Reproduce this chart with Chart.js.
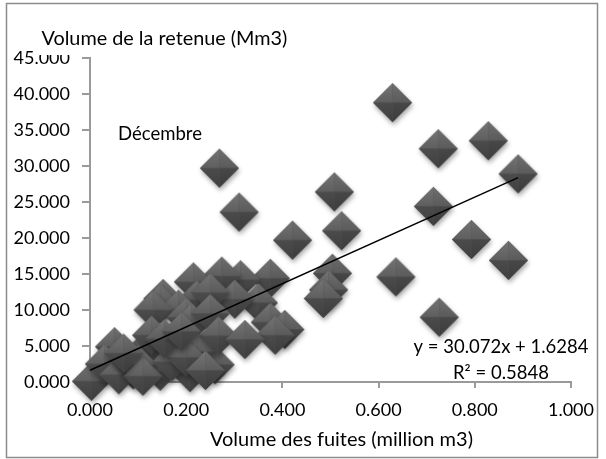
<!DOCTYPE html>
<html lang="fr">
<head>
<meta charset="UTF-8">
<title>Volume de la retenue / fuites</title>
<script src="https://cdn.jsdelivr.net/npm/chart.js"></script>
<style>
  html, body { margin: 0; padding: 0; background: #fff; }
  #wrap { width: 606px; height: 459px; }
</style>
</head>
<body>
<div id="wrap"><canvas id="fuitesChart" width="606" height="459"></canvas></div>

<script>
// Décembre : volume des fuites (million m3) vs volume de la retenue (Mm3)
const fuites = [
  0.629, 0.724, 0.828, 0.890, 0.714, 0.508, 0.269, 0.310, 0.421, 0.523,
  0.793, 0.870, 0.636, 0.726, 0.504, 0.496, 0.485, 0.375, 0.313, 0.274,
  0.215, 0.350, 0.301, 0.222, 0.152, 0.146, 0.184, 0.131, 0.200, 0.250,
  0.375, 0.405, 0.385, 0.211, 0.250, 0.003, 0.051, 0.090, 0.146, 0.118,
  0.184, 0.208, 0.260, 0.222, 0.267, 0.322, 0.128, 0.030, 0.060, 0.080,
  0.100, 0.110, 0.170, 0.200, 0.240, 0.155, 0.070, 0.190
];
const retenue = [
  38.8, 32.4, 33.5, 28.9, 24.4, 26.4, 29.7, 23.6, 19.7, 21.0,
  19.8, 16.9, 14.6, 9.0, 15.1, 12.8, 11.6, 14.4, 14.2, 14.7,
  13.9, 11.0, 11.5, 11.4, 11.6, 10.9, 10.1, 10.0, 9.0, 12.4,
  8.3, 7.3, 6.5, 8.2, 9.5, 0.1, 4.9, 1.7, 1.5, 4.7,
  5.0, 1.3, 2.4, 4.2, 6.4, 5.9, 6.5, 2.5, 1.0, 3.2,
  2.4, 0.8, 2.8, 3.4, 1.6, 6.0, 4.0, 7.0
];

// axes
const xMin = 0, xMax = 1, xStep = 0.2;
const yMin = 0, yMax = 45, yStep = 5;

// courbe de tendance linéaire (Excel)
const pente = 30.072;
const ordonnee = 1.6284;
const r2 = 0.5848;

const FONT = 'Lato, "Open Sans", sans-serif';
const AXIS_GREY = '#9a9a9a';

// diamant "pyramide" avec ombre, comme le marqueur Excel
function makeDiamond(r) {
  const pad = 7;
  const c = document.createElement('canvas');
  c.width = c.height = Math.ceil(2 * (r + pad));
  const g = c.getContext('2d');
  const cx = c.width / 2, cy = c.height / 2;

  function diamondPath() {
    g.beginPath();
    g.moveTo(cx, cy - r);
    g.lineTo(cx + r, cy);
    g.lineTo(cx, cy + r);
    g.lineTo(cx - r, cy);
    g.closePath();
  }

  g.save();
  g.shadowColor = 'rgba(0,0,0,0.35)';
  g.shadowBlur = 5;
  g.shadowOffsetX = 1;
  g.shadowOffsetY = 3;
  diamondPath();
  g.fillStyle = '#505050';
  g.fill();
  g.restore();

  function facet(ax, ay, bx, by, c1, c2, gy1, gy2) {
    const grad = g.createLinearGradient(0, gy1, 0, gy2);
    grad.addColorStop(0, c1);
    grad.addColorStop(1, c2);
    g.beginPath();
    g.moveTo(cx, cy);
    g.lineTo(ax, ay);
    g.lineTo(bx, by);
    g.closePath();
    g.fillStyle = grad;
    g.fill();
  }
  // haut gauche / haut droit
  facet(cx - r, cy, cx, cy - r, '#747474', '#5f5f5f', cy - r, cy);
  facet(cx, cy - r, cx + r, cy, '#6f6f6f', '#5b5b5b', cy - r, cy);
  // bas droit / bas gauche
  facet(cx + r, cy, cx, cy + r, '#484848', '#3c3c3c', cy, cy + r);
  facet(cx, cy + r, cx - r, cy, '#4c4c4c', '#3f3f3f', cy, cy + r);
  return c;
}

const diamond = makeDiamond(19.5);

const points = fuites.map((x, i) => ({ x: x, y: retenue[i] }));
const xFin = Math.max(...fuites);
const tendance = [
  { x: 0, y: ordonnee },
  { x: xFin, y: pente * xFin + ordonnee }
];

// texte ajusté à la largeur mesurée sur l'original
function fitText(ctx, txt, x, y, width, align) {
  ctx.font = '18px ' + FONT;
  const w = ctx.measureText(txt).width;
  const size = Math.max(15, Math.min(22, 18 * width / w));
  ctx.font = size.toFixed(2) + 'px ' + FONT;
  ctx.textAlign = align;
  ctx.fillText(txt, x, y);
}

const textes = {
  id: 'textes',
  beforeDraw(chart) {
    const ctx = chart.ctx;
    ctx.save();
    ctx.fillStyle = '#fff';
    ctx.fillRect(0, 0, chart.width, chart.height);
    ctx.strokeStyle = '#8c8c8c';
    ctx.lineWidth = 1.5;
    ctx.strokeRect(6.5, 3.5, 591, 454);
    ctx.restore();
  },
  afterDraw(chart) {
    const ctx = chart.ctx;
    ctx.save();
    ctx.textBaseline = 'alphabetic';

    // titre axe Y (cache le haut du 45.000, comme l'original)
    ctx.fillStyle = '#fff';
    ctx.fillRect(36, 22, 258, 33);
    ctx.fillStyle = '#000';
    fitText(ctx, 'Volume de la retenue (Mm3)', 41.5, 44.5, 246, 'left');
    fitText(ctx, 'Décembre', 118, 140, 84, 'left');

    // titre axe X
    fitText(ctx, 'Volume des fuites (million m3)', 341.5, 446, 263, 'center');

    // équation de la tendance
    fitText(ctx, 'y = ' + pente.toFixed(3) + 'x + ' + ordonnee.toFixed(4), 501, 353, 175, 'center');
    fitText(ctx, 'R² = ' + r2.toFixed(4), 501, 378.5, 96, 'center');
    ctx.restore();
  }
};

new Chart(document.getElementById('fuitesChart'), {
  type: 'scatter',
  data: {
    datasets: [
      {
        type: 'line',
        label: 'Linéaire',
        data: tendance,
        borderColor: '#000',
        borderWidth: 1.5,
        pointRadius: 0,
        fill: false,
        clip: false
      },
      {
        label: 'Décembre',
        data: points,
        pointStyle: diamond,
        pointRadius: 19.5,
        clip: false
      }
    ]
  },
  options: {
    responsive: false,
    animation: false,
    layout: { padding: { left: 0, right: 35, top: 58, bottom: 0 } },
    plugins: {
      legend: { display: false },
      tooltip: { enabled: false },
      title: { display: false }
    },
    scales: {
      x: {
        type: 'linear',
        min: xMin, max: xMax,
        grid: { drawOnChartArea: false, color: AXIS_GREY, tickLength: 6, lineWidth: 2 },
        border: { color: AXIS_GREY, width: 2 },
        ticks: {
          stepSize: xStep,
          padding: 11,
          color: '#000',
          font: { family: FONT, size: 18 },
          maxRotation: 0,
          callback: v => Number(v).toFixed(3)
        },
        afterFit(scale) { scale.height = 77; }
      },
      y: {
        type: 'linear',
        min: yMin, max: yMax,
        grid: { drawOnChartArea: false, color: AXIS_GREY, tickLength: 8, lineWidth: 2 },
        border: { color: AXIS_GREY, width: 2 },
        ticks: {
          stepSize: yStep,
          padding: 12,
          color: '#000',
          font: { family: FONT, size: 18 },
          callback: v => Number(v).toFixed(3)
        },
        afterFit(scale) { scale.width = 90; }
      }
    }
  },
  plugins: [textes]
});
</script>
</body>
</html>
